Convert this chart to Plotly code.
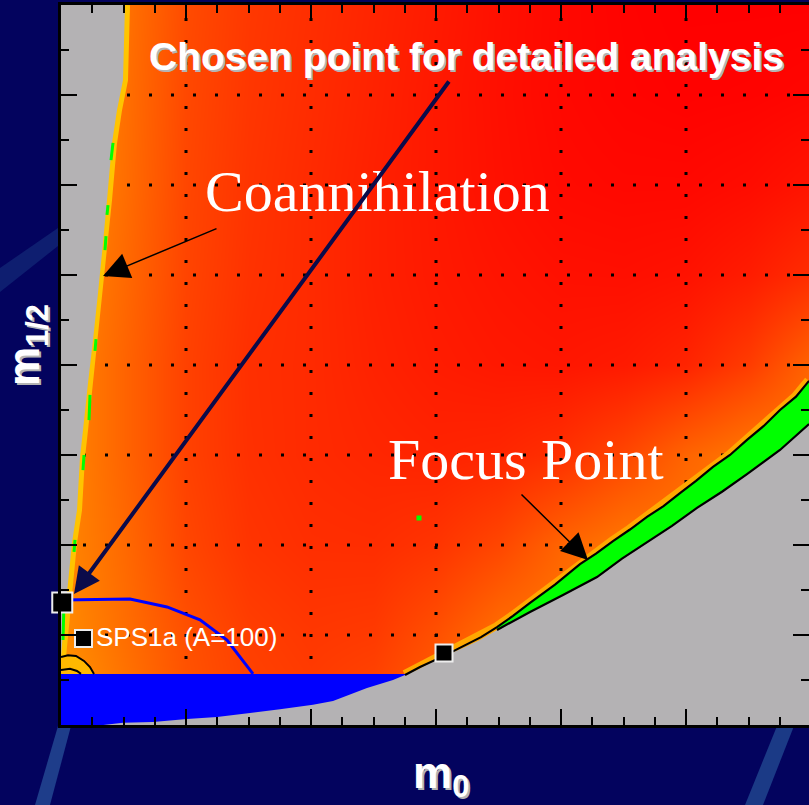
import plotly.graph_objects as go

# ---------------------------------------------------------------------------
# mSUGRA (m0, m1/2) plane: neutralino relic-density colour field and regions
# ---------------------------------------------------------------------------

# colour field on a coarse scan grid (green channel of a red -> yellow scale)
m0_nodes = [0, 250, 500, 750, 1000, 1250, 1500, 1750, 2000, 2250, 2500, 2750, 3000]
m12_nodes = [0, 250, 500, 750, 1000, 1250, 1500, 1750, 2000]
omega_level = [
    [160, 120, 85, 68, 62, 75, 100, 120, 120, 120, 120, 120, 120],
    [140, 110, 80, 62, 55, 58, 80, 110, 120, 120, 120, 120, 120],
    [135, 105, 70, 52, 46, 45, 52, 70, 100, 120, 120, 120, 120],
    [135, 100, 65, 48, 42, 38, 35, 38, 48, 70, 100, 120, 120],
    [135, 100, 65, 47, 42, 34, 28, 24, 22, 26, 36, 60, 100],
    [140, 105, 68, 50, 42, 32, 25, 20, 16, 15, 18, 28, 45],
    [145, 110, 70, 52, 42, 32, 24, 16, 10, 8, 8, 12, 20],
    [150, 112, 72, 54, 44, 34, 24, 15, 8, 4, 2, 3, 6],
    [150, 115, 75, 56, 46, 36, 26, 16, 8, 3, 0, 0, 0],
]

# stau-LSP boundary (coannihilation edge), top to bottom
coann_m0 = [256, 248, 224, 204, 184, 164, 148, 128, 108, 88, 76, 64, 44, 24, 8, 0]
coann_m12 = [2000, 1792, 1708, 1617, 1458, 1311, 1200, 1069, 950, 819, 744, 597, 506, 367, 256, 189]

# thin WMAP-allowed pieces along the coannihilation edge (start/end pairs)
coann_green_m0 = [208, 200, None, 188, 184, None, 180, 176, None, 140, 136, None,
                  116, 112, None, 92, 88, None, 56, 52, None, 12, 8]
coann_green_m12 = [1617, 1569, None, 1444, 1417, None, 1358, 1319, None, 1072, 1039, None,
                   917, 847, None, 750, 708, None, 514, 481, None, 342, 236]

# LEP chargino/Higgs excluded band (blue) at small m1/2
blue_m0 = [0, 1440, 1440, 0]
blue_m12 = [0, 0, 142, 142]

# no-EWSB region (lower right) boundary
ewsb_m0 = [104, 248, 368, 504, 624, 756, 876, 1008, 1088, 1224, 1328, 1424, 1476, 1532,
           1608, 1676, 1744, 1808, 1876, 2008, 2144, 2344, 2544, 2744, 2876, 2992, 3010, 3010]
ewsb_m12 = [-5, 6, 8, 17, 22, 33, 44, 56, 67, 103, 125, 153, 172, 192,
            214, 236, 264, 289, 314, 361, 411, 508, 603, 697, 764, 836, 836, -5]

# focus-point strip: upper contour and lower contour
focus_up_m0 = [1376, 1436, 1532, 1608, 1680, 1744, 1808, 1876, 1976, 2076, 2140, 2208, 2276,
               2344, 2410, 2476, 2540, 2608, 2676, 2744, 2810, 2876, 2940, 2992]
focus_up_m12 = [139, 161, 192, 219, 244, 272, 303, 339, 390, 447, 476, 511, 543,
                578, 608, 644, 678, 717, 750, 792, 830, 875, 912, 956]
focus_lo_m0 = [1744, 1808, 1876, 2008, 2144, 2244, 2344, 2444, 2544, 2644, 2744, 2876, 2992]
focus_lo_m12 = [264, 289, 314, 361, 411, 462, 508, 553, 603, 648, 697, 764, 836]

# contour lines in the lower-left corner
arc1_m0 = [0, 28, 60, 92, 116, 132]
arc1_m12 = [189, 194, 192, 178, 161, 142]
arc2_m0 = [0, 36, 64, 80]
arc2_m12 = [153, 156, 150, 142]

# A = 100 contour (blue line)
a100_m0 = [4, 276, 424, 556, 664, 716, 768]
a100_m12 = [347, 350, 328, 292, 236, 189, 142]

# benchmark points
points_m0 = [5, 90, 1532]
points_m12 = [340, 240, 200]
points_size = [20, 17, 17]
stray_m0 = [1432]
stray_m12 = [575]

# grid positions
grid_m0 = [500, 1000, 1500, 2000, 2500]
grid_m12 = [250, 500, 750, 1000, 1250, 1500, 1750]

# ---------------------------------------------------------------------------
W, H = 809, 805
ML, MR, MT, MB = 61, 0, 5, 80
X_MAX, Y_MAX = 2992, 2000
PW, PH = W - ML - MR, H - MT - MB

GRAY = "#B4B2B4"
NAVY = "#03035E"
SANS = "Liberation Sans, Arial, sans-serif"
SERIF = "Liberation Serif, Times New Roman, serif"


def fx(px):
    """page pixel -> paper x"""
    return (px - ML) / PW


def fy(py):
    """page pixel -> paper y"""
    return (H - MB - py) / PH


def dx(px):
    return (px - ML) * X_MAX / PW


def dy(py):
    return (H - MB - py) * Y_MAX / PH


fig = go.Figure()

fig.add_trace(go.Heatmap(
    x=m0_nodes, y=m12_nodes, z=omega_level, zmin=0, zmax=255,
    colorscale=[[0, "#FF0000"], [1, "#FFFF00"]], zsmooth="best",
    showscale=False, hoverinfo="skip"))

# dotted grid
gx, gy = [], []
for v in grid_m0:
    gx += [v, v, None]
    gy += [0, Y_MAX, None]
for v in grid_m12:
    gx += [0, X_MAX, None]
    gy += [v, v, None]
fig.add_trace(go.Scatter(x=gx, y=gy, mode="lines", hoverinfo="skip",
                         line=dict(color="black", width=3, dash="3px,19px")))

# yellow rims along the region boundaries
fig.add_trace(go.Scatter(x=coann_m0, y=coann_m12, mode="lines", hoverinfo="skip",
                         line=dict(color="#FFC400", width=10)))
fig.add_trace(go.Scatter(x=focus_up_m0, y=focus_up_m12, mode="lines", hoverinfo="skip",
                         line=dict(color="#FFA800", width=10)))

# stau-LSP region
fig.add_trace(go.Scatter(x=coann_m0 + [-20, -20], y=coann_m12 + [189, 2010],
                         fill="toself", fillcolor=GRAY, mode="none", hoverinfo="skip"))
fig.add_trace(go.Scatter(x=coann_green_m0, y=coann_green_m12, mode="lines", hoverinfo="skip",
                         line=dict(color="#00FF00", width=3)))

# LEP-excluded band
fig.add_trace(go.Scatter(x=blue_m0, y=blue_m12, fill="toself", fillcolor="#0000FF",
                         mode="none", hoverinfo="skip"))

# no-EWSB region
fig.add_trace(go.Scatter(x=ewsb_m0, y=ewsb_m12, fill="toself", fillcolor=GRAY,
                         mode="none", hoverinfo="skip"))

# focus-point strip
fig.add_trace(go.Scatter(x=focus_up_m0[5:] + focus_lo_m0[::-1],
                         y=focus_up_m12[5:] + focus_lo_m12[::-1],
                         fill="toself", fillcolor="#00FF00", mode="none", hoverinfo="skip"))
for xs, ys in [(focus_up_m0, focus_up_m12), (focus_lo_m0, focus_lo_m12)]:
    fig.add_trace(go.Scatter(x=xs, y=ys, mode="lines", hoverinfo="skip",
                             line=dict(color="black", width=2.2)))

# lower-left corner contours
fig.add_trace(go.Scatter(x=arc1_m0 + [0], y=arc1_m12 + [142], fill="toself",
                         fillcolor="#FFB800", mode="none", hoverinfo="skip"))
for xs, ys in [(arc1_m0, arc1_m12), (arc2_m0, arc2_m12)]:
    fig.add_trace(go.Scatter(x=xs, y=ys, mode="lines", hoverinfo="skip", cliponaxis=False,
                             line=dict(color="black", width=2)))

# A = 100 contour
fig.add_trace(go.Scatter(x=a100_m0, y=a100_m12, mode="lines", hoverinfo="skip",
                         line=dict(color="#0000FF", width=3)))

# single allowed scan point and benchmark squares
fig.add_trace(go.Scatter(x=stray_m0, y=stray_m12, mode="markers", hoverinfo="skip",
                         marker=dict(symbol="square", size=5, color="#00FF00", opacity=1)))
fig.add_trace(go.Scatter(x=points_m0, y=points_m12, mode="markers", cliponaxis=False,
                         hoverinfo="skip",
                         marker=dict(symbol="square", size=points_size, color="black",
                                     opacity=1, line=dict(color="#EDEDED", width=2))))

# helper trace carrying the right-hand tick axis
fig.add_trace(go.Scatter(x=[0], y=[0], yaxis="y2", mode="markers",
                         marker=dict(opacity=0), hoverinfo="skip"))

# ---------------------------------------------------------------------------
# slide background streaks
streaks = [
    [(58, 726), (71, 726), (50, 805), (35, 805)],
    [(777, 726), (794, 726), (763, 805), (745, 805)],
    [(0, 268), (58, 228), (58, 246), (0, 292)],
]
streak_colors = ["#1E3D8A", "#1B3A86", "#0E1E70"]
shapes = []
for pts, col in zip(streaks, streak_colors):
    path = "M " + " L ".join(f"{fx(a):.5f},{fy(b):.5f}" for a, b in pts) + " Z"
    shapes.append(dict(type="path", xref="paper", yref="paper", path=path,
                       fillcolor=col, line=dict(width=0), layer="below"))

annotations = []


def label(text, px, py, size, family, color="white", shadow=None, angle=0,
          xanchor="center", bold=False):
    if bold:
        text = f"<b>{text}</b>"
    if shadow:
        annotations.append(dict(text=text, x=fx(px), y=fy(py), xref="paper", yref="paper",
                                showarrow=False, xanchor=xanchor, yanchor="middle",
                                textangle=angle, xshift=2, yshift=-2,
                                font=dict(size=size, family=family, color=shadow)))
    annotations.append(dict(text=text, x=fx(px), y=fy(py), xref="paper", yref="paper",
                            showarrow=False, xanchor=xanchor, yanchor="middle",
                            textangle=angle,
                            font=dict(size=size, family=family, color=color)))


def arrow(tail, head, color, width, size):
    annotations.append(dict(text="", x=dx(head[0]), y=dy(head[1]), xref="x", yref="y",
                            ax=dx(tail[0]), ay=dy(tail[1]), axref="x", ayref="y",
                            showarrow=True, arrowhead=2, arrowsize=size,
                            arrowwidth=width, arrowcolor=color, standoff=0))


label("Coannihilation", 377, 192, 58, SERIF)
label("Focus Point", 526, 459, 58, SERIF)
label("SPS1a (A=100)", 94, 637, 26, SANS, xanchor="left")
arrow((218, 228), (103, 276), "black", 1.5, 3.5)
arrow((520, 493), (588, 560), "black", 1.5, 3.5)
arrow((450, 80), (74, 594), "#0B0B4A", 4, 1.3)
label("Chosen point for detailed analysis", 467, 57, 39, SANS, shadow="#B4B4B4", bold=True)
label("m<sub>0</sub>", 441, 776, 44, SANS, shadow="#B4B4B4", bold=True)
label("m<sub>1/2</sub>", 27, 345, 44, SANS, shadow="#B4B4B4", angle=-90, bold=True)

axis_common = dict(showgrid=False, zeroline=False, showticklabels=False,
                   ticks="inside", tickcolor="black", tickwidth=2, ticklen=16)

fig.update_layout(
    width=W, height=H, autosize=False,
    margin=dict(l=ML, r=MR, t=MT, b=MB, pad=0),
    paper_bgcolor=NAVY, plot_bgcolor=GRAY,
    showlegend=False,
    xaxis=dict(range=[0, X_MAX], tick0=0, dtick=500, showline=True, linecolor="black",
               linewidth=3, mirror="ticks",
               minor=dict(dtick=125, ticks="inside", ticklen=8, tickcolor="black",
                          tickwidth=2),
               **axis_common),
    yaxis=dict(range=[0, Y_MAX], tick0=0, dtick=250, showline=True, linecolor="black",
               linewidth=3,
               minor=dict(dtick=125, ticks="inside", ticklen=8, tickcolor="black",
                          tickwidth=2),
               **axis_common),
    yaxis2=dict(range=[0, Y_MAX], overlaying="y", side="right", tick0=0, dtick=250,
                showline=False,
                minor=dict(dtick=125, ticks="inside", ticklen=8, tickcolor="black",
                           tickwidth=2),
                **axis_common),
    shapes=shapes,
    annotations=annotations,
)

fig.write_html("out.html")
